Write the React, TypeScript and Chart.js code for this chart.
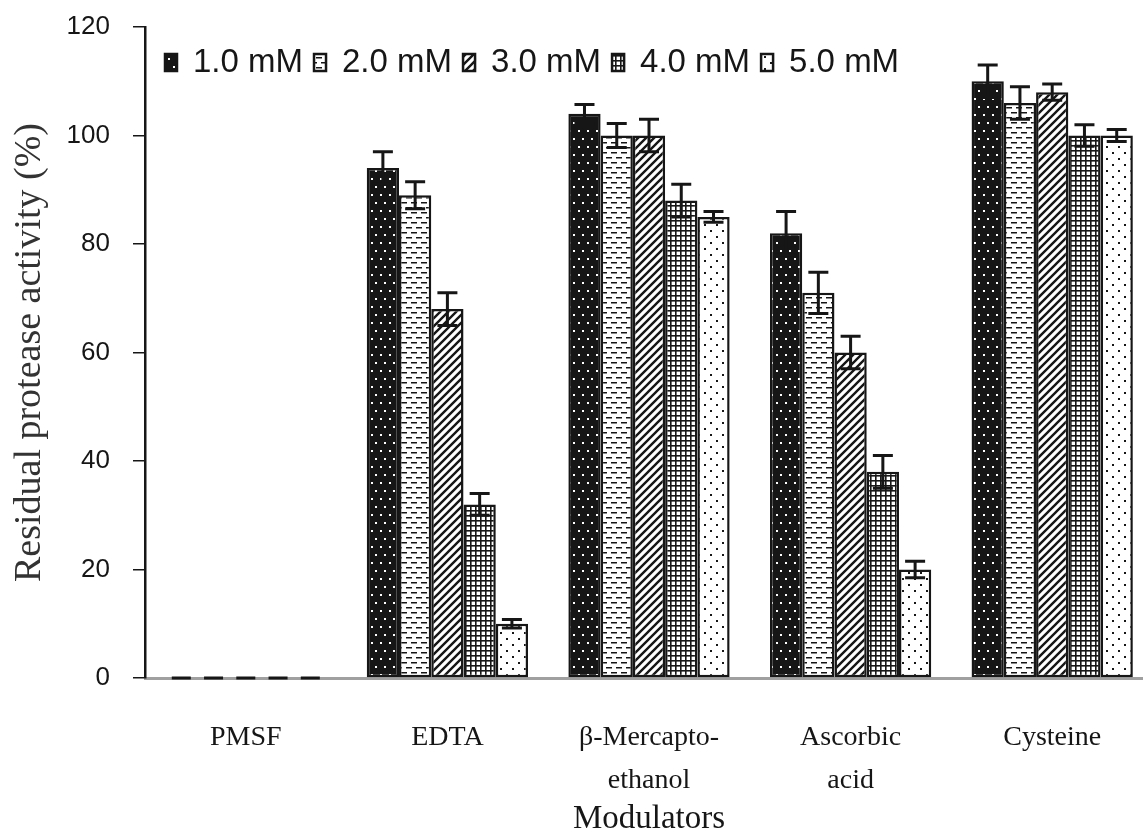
import React, { useEffect, useRef } from "react";
import { Chart, registerables } from "chart.js";

Chart.register(...registerables);

const categories: (string | string[])[] = [
  "PMSF",
  "EDTA",
  ["β-Mercapto-", "ethanol"],
  ["Ascorbic", "acid"],
  "Cysteine",
];
const seriesLabels = ["1.0 mM", "2.0 mM", "3.0 mM", "4.0 mM", "5.0 mM"];

// values per series (1.0 .. 5.0 mM) across PMSF, EDTA, β-ME, Ascorbic, Cysteine
const mM1 = [0, 94, 104, 82, 110];
const mM2 = [0, 89, 100, 71, 106];
const mM3 = [0, 68, 100, 60, 108];
const mM4 = [0, 32, 88, 38, 100];
const mM5 = [0, 10, 85, 20, 100];

const err1 = [0, 3, 1.7, 4, 3];
const err2 = [0, 2.5, 2.2, 3.8, 3];
const err3 = [0, 3, 3, 3, 1.5];
const err4 = [0, 2, 3, 3, 2];
const err5 = [0, 0.8, 1, 1.5, 1.1];

const yTicks = [0, 20, 40, 60, 80, 100, 120];

const INK = "#161616";

function makePattern(kind: number): CanvasPattern | string {
  const c = document.createElement("canvas");
  const g = c.getContext("2d")!;
  if (kind === 0) {
    c.width = 9; c.height = 16;
    g.fillStyle = INK; g.fillRect(0, 0, 9, 16);
    g.fillStyle = "#fff";
    g.fillRect(2, 2, 2, 2);
    g.fillRect(6, 10, 2, 2);
  } else if (kind === 1) {
    c.width = 10; c.height = 10;
    g.fillStyle = "#fff"; g.fillRect(0, 0, 10, 10);
    g.fillStyle = INK;
    g.fillRect(1, 2, 6, 1.5);
    g.fillRect(6, 7, 4, 1.5);
    g.fillRect(0, 7, 2, 1.5);
  } else if (kind === 2) {
    c.width = 8; c.height = 8;
    g.fillStyle = "#fff"; g.fillRect(0, 0, 8, 8);
    g.strokeStyle = INK; g.lineWidth = 2.4;
    g.beginPath();
    g.moveTo(-2, 10); g.lineTo(10, -2);
    g.moveTo(-6, 6); g.lineTo(6, -6);
    g.moveTo(2, 14); g.lineTo(14, 2);
    g.stroke();
  } else if (kind === 3) {
    c.width = 5; c.height = 5;
    g.fillStyle = "#fff"; g.fillRect(0, 0, 5, 5);
    g.fillStyle = INK;
    g.fillRect(0, 0, 1.6, 5);
    g.fillRect(0, 0, 5, 1.6);
  } else {
    c.width = 12; c.height = 12;
    g.fillStyle = "#fff"; g.fillRect(0, 0, 12, 12);
    g.fillStyle = INK;
    g.fillRect(2, 2, 2, 2);
    g.fillRect(8, 8, 2, 2);
  }
  const p = g.createPattern(c, "repeat");
  return p || "#fff";
}

export default function App() {
  const ref = useRef<HTMLCanvasElement | null>(null);

  useEffect(() => {
    document.body.style.margin = "0";
    document.body.style.overflow = "hidden";
    const canvas = ref.current;
    if (!canvas) return;
    const values = [mM1, mM2, mM3, mM4, mM5];
    const errs = [err1, err2, err3, err4, err5];
    const patterns = [0, 1, 2, 3, 4].map((k) => makePattern(k));

    const errorPlugin = {
      id: "errorBars",
      afterDatasetsDraw(chart: any) {
        const ctx = chart.ctx;
        const y = chart.scales.y;
        ctx.save();
        ctx.strokeStyle = INK;
        ctx.fillStyle = INK;
        ctx.lineWidth = 3;
        values.forEach((vals, i) => {
          const meta = chart.getDatasetMeta(i);
          meta.data.forEach((bar: any, j: number) => {
            const v = vals[j];
            const x = bar.x;
            if (v === 0) {
              const y0 = y.getPixelForValue(0);
              ctx.fillRect(x - 9.5, y0 - 1.5, 19, 3);
              return;
            }
            const e = errs[i][j];
            const yt = y.getPixelForValue(v + e);
            const yb = y.getPixelForValue(v - e);
            ctx.beginPath();
            ctx.moveTo(x, yb);
            ctx.lineTo(x, yt);
            ctx.moveTo(x - 10, yt);
            ctx.lineTo(x + 10, yt);
            ctx.moveTo(x - 10, yb);
            ctx.lineTo(x + 10, yb);
            ctx.stroke();
          });
        });
        ctx.restore();
      },
    };

    const legendPlugin = {
      id: "innerLegend",
      afterDraw(chart: any) {
        const ctx = chart.ctx;
        ctx.save();
        ctx.font = "33px 'Liberation Sans', Arial, sans-serif";
        ctx.textBaseline = "alphabetic";
        let x = 164;
        const baseY = 72;
        chart.data.datasets.forEach((ds: any) => {
          ctx.fillStyle = ds.backgroundColor;
          ctx.fillRect(x, 53, 14, 19);
          ctx.strokeStyle = INK;
          ctx.lineWidth = 2.5;
          ctx.strokeRect(x + 1, 54, 12, 17);
          ctx.fillStyle = INK;
          ctx.fillText(ds.label, x + 29, baseY);
          x += 29 + ctx.measureText(ds.label).width + 10;
        });
        ctx.restore();
      },
    };

    const chart = new Chart(canvas, {
      type: "bar",
      data: {
        labels: categories,
        datasets: values.map((vals, i) => ({
          label: seriesLabels[i],
          data: vals,
          backgroundColor: patterns[i] as any,
          borderColor: INK,
          borderWidth: 2.5,
          borderSkipped: false,
          categoryPercentage: 0.8,
          barPercentage: 1.0,
        })),
      },
      options: {
        responsive: true,
        maintainAspectRatio: false,
        animation: false,
        layout: { padding: { top: 0, right: 0, left: 0, bottom: 0 } },
        plugins: {
          legend: { display: false },
          tooltip: { enabled: false },
        },
        scales: {
          x: {
            grid: { display: false, drawTicks: false },
            border: { display: true, color: "#a0a0a0", width: 3 },
            ticks: {
              color: INK,
              padding: 38,
              maxRotation: 0,
              autoSkip: false,
              font: { family: "'Liberation Serif', 'Times New Roman', serif", size: 28, lineHeight: 1.55 },
            },
            title: {
              display: true,
              text: "Modulators",
              color: INK,
              padding: { top: 0, bottom: 0 },
              font: { family: "'Liberation Serif', 'Times New Roman', serif", size: 33, lineHeight: 0.9 },
            },
            afterFit(scale: any) {
              scale.height = 156;
            },
          },
          y: {
            min: 0,
            max: 120,
            afterBuildTicks(scale: any) {
              scale.ticks = yTicks.map((v) => ({ value: v }));
            },
            grid: {
              display: true,
              drawOnChartArea: false,
              drawTicks: true,
              tickLength: 12,
              color: INK,
              lineWidth: 1.5,
            },
            border: { display: true, color: INK, width: 2.5 },
            ticks: {
              color: INK,
              padding: 23,
              font: { family: "'Liberation Sans', Arial, sans-serif", size: 26, lineHeight: 0.31 },
            },
            title: {
              display: true,
              text: "Residual protease activity (%)",
              color: "#333",
              padding: { top: 11, bottom: 0 },
              font: { family: "'Liberation Serif', 'Times New Roman', serif", size: 38, lineHeight: 1.0 },
            },
            afterFit(scale: any) {
              scale.width = 145;
            },
          },
        },
      },
      plugins: [errorPlugin, legendPlugin],
    });

    return () => chart.destroy();
  }, []);

  return (
    <div style={{ width: 1153, height: 834, position: "relative" }}>
      <canvas ref={ref} />
    </div>
  );
}
